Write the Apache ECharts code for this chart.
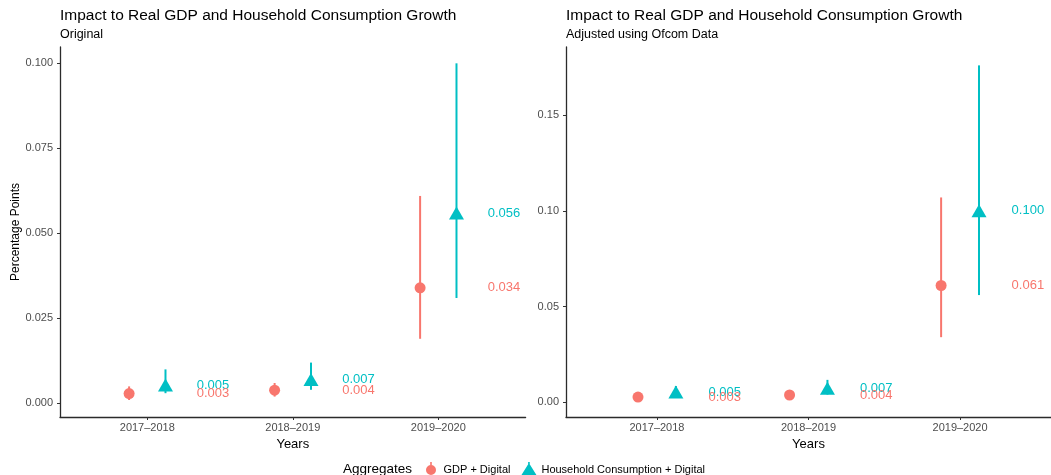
<!DOCTYPE html>
<html>
<head>
<meta charset="utf-8">
<script src="https://cdn.jsdelivr.net/npm/echarts@6/dist/echarts.min.js"></script>
<style>
  html, body { margin: 0; padding: 0; background: #fff; }
  #main { width: 1051px; height: 475px; }
</style>
</head>
<body>
<div id="main"></div>
<script>
// categories on the x axis
const years = ['2017\u20132018', '2018\u20132019', '2019\u20132020'];

// original estimates (point, lower, upper)
const gdpOrig = [0.0029, 0.0039, 0.034];
const gdpOrigLow = [0.001, 0.002, 0.019];
const gdpOrigHigh = [0.005, 0.006, 0.061];
const hhOrig = [0.0054, 0.007, 0.056];
const hhOrigLow = [0.003, 0.004, 0.031];
const hhOrigHigh = [0.010, 0.012, 0.100];

// adjusted using Ofcom data
const gdpAdj = [0.0027, 0.0038, 0.061];
const gdpAdjLow = [0.0015, 0.0025, 0.034];
const gdpAdjHigh = [0.004, 0.005, 0.107];
const hhAdj = [0.0054, 0.0073, 0.100];
const hhAdjLow = [0.0035, 0.004, 0.056];
const hhAdjHigh = [0.0085, 0.0117, 0.176];

// tick labels
const ticksOrig = [0, 0.025, 0.05, 0.075, 0.1];
const ticksAdj = [0, 0.05, 0.1, 0.15];

const RED = '#F8766D';
const TEAL = '#00BFC4';
const FONT = 'Liberation Sans, Arial, sans-serif';
const DODGE = 0.125;
const LABEL_NUDGE = 0.34;

const chart = echarts.init(document.getElementById('main'));

function errorBars(idx, name, color, offset, lo, hi) {
  return {
    type: 'custom',
    name: name + ' bars',
    xAxisIndex: idx, yAxisIndex: idx,
    z: 2,
    silent: true,
    data: lo.map((v, i) => [i + 1 + offset, v, hi[i]]),
    encode: { x: 0, y: [1, 2] },
    renderItem: function (params, api) {
      const x = api.value(0);
      const p1 = api.coord([x, api.value(1)]);
      const p2 = api.coord([x, api.value(2)]);
      return {
        type: 'line',
        shape: { x1: p1[0], y1: p1[1], x2: p2[0], y2: p2[1] },
        style: { stroke: color, lineWidth: 2 }
      };
    }
  };
}

function points(idx, name, color, offset, vals, symbol, size) {
  return {
    type: 'scatter',
    name: name,
    xAxisIndex: idx, yAxisIndex: idx,
    z: 3,
    symbol: symbol,
    symbolSize: size,
    itemStyle: { color: color, opacity: 1 },
    data: vals.map((v, i) => [i + 1 + offset, v])
  };
}

function valueLabels(idx, color, vals) {
  return {
    type: 'custom',
    xAxisIndex: idx, yAxisIndex: idx,
    z: 4,
    silent: true,
    data: vals.map((v, i) => [i + 1 + LABEL_NUDGE, v]),
    renderItem: function (params, api) {
      const p = api.coord([api.value(0), api.value(1)]);
      return {
        type: 'text',
        x: p[0], y: p[1],
        style: {
          text: api.value(1).toFixed(3),
          fill: color,
          font: '13px ' + FONT,
          align: 'left',
          verticalAlign: 'middle'
        }
      };
    }
  };
}

function panelSeries(idx, gdp, gdpLo, gdpHi, hh, hhLo, hhHi) {
  return [
    errorBars(idx, 'GDP + Digital', RED, -DODGE, gdpLo, gdpHi),
    errorBars(idx, 'Household Consumption + Digital', TEAL, DODGE, hhLo, hhHi),
    points(idx, 'GDP + Digital', RED, -DODGE, gdp, 'circle', 11),
    points(idx, 'Household Consumption + Digital', TEAL, DODGE, hh, 'triangle', [15, 13]),
    valueLabels(idx, TEAL, hh),
    valueLabels(idx, RED, gdp)
  ];
}

function xAxis(idx) {
  return {
    type: 'value', gridIndex: idx,
    min: 0.4, max: 3.6,
    name: 'Years', nameLocation: 'middle', nameGap: 19,
    nameTextStyle: { fontSize: 13, color: '#000', fontFamily: FONT },
    splitLine: { show: false },
    axisLine: { show: true, onZero: false, lineStyle: { color: '#2b2b2b', width: 1.3 } },
    axisTick: { show: true, length: 3, customValues: [1, 2, 3], lineStyle: { color: '#333' } },
    axisLabel: {
      customValues: [1, 2, 3], margin: 5,
      formatter: v => years[Math.round(v) - 1] || '',
      fontSize: 11, color: '#4d4d4d', fontFamily: FONT
    }
  };
}

function yAxis(idx, min, max, ticks, digits, name) {
  return {
    type: 'value', gridIndex: idx,
    min: min, max: max,
    name: name, nameLocation: 'middle', nameGap: 37,
    nameTextStyle: { fontSize: 12, color: '#000', fontFamily: FONT },
    splitLine: { show: false },
    axisLine: { show: true, onZero: false, lineStyle: { color: '#2b2b2b', width: 1.3 } },
    axisTick: { show: true, length: 3, customValues: ticks, lineStyle: { color: '#333' } },
    axisLabel: {
      customValues: ticks, margin: 7,
      formatter: v => v.toFixed(digits),
      fontSize: 11, color: '#4d4d4d', fontFamily: FONT
    }
  };
}

const titleText = 'Impact to Real GDP and Household Consumption Growth';

chart.setOption({
  backgroundColor: '#fff',
  animation: false,
  title: [
    {
      text: titleText, subtext: 'Original',
      left: 55, top: 3, itemGap: 4,
      textStyle: { fontSize: 15.5, fontWeight: 'normal', color: '#000', fontFamily: FONT },
      subtextStyle: { fontSize: 12.5, color: '#000', fontFamily: FONT }
    },
    {
      text: titleText, subtext: 'Adjusted using Ofcom Data',
      left: 561, top: 3, itemGap: 4,
      textStyle: { fontSize: 15.5, fontWeight: 'normal', color: '#000', fontFamily: FONT },
      subtextStyle: { fontSize: 12.5, color: '#000', fontFamily: FONT }
    }
  ],
  grid: [
    { left: 60, top: 47, width: 465.6, height: 370 },
    { left: 566, top: 47, width: 486.4, height: 370 }
  ],
  xAxis: [xAxis(0), xAxis(1)],
  yAxis: [
    yAxis(0, -0.004, 0.1048, ticksOrig, 3, 'Percentage Points'),
    yAxis(1, -0.0077, 0.1856, ticksAdj, 2, '')
  ],
  graphic: [
    {
      type: 'text', left: 343, top: 462,
      style: { text: 'Aggregates', font: '13.5px ' + FONT, fill: '#000' }
    }
  ],
  legend: {
    left: 426, top: 462, padding: 0,
    itemWidth: 15, itemHeight: 16, itemGap: 11,
    textStyle: { fontSize: 11, color: '#000', fontFamily: FONT },
    data: [
      { name: 'GDP + Digital', icon: 'path://M4.2,0H5.8V16H4.2Z M5,3A5,5,0,1,1,4.999,3Z' },
      { name: 'Household Consumption + Digital', icon: 'path://M7.5,1L15,13H0Z M6.7,0H8.3V16H6.7Z' }
    ]
  },
  series: [
    ...panelSeries(0, gdpOrig, gdpOrigLow, gdpOrigHigh, hhOrig, hhOrigLow, hhOrigHigh),
    ...panelSeries(1, gdpAdj, gdpAdjLow, gdpAdjHigh, hhAdj, hhAdjLow, hhAdjHigh)
  ]
});
</script>
</body>
</html>
